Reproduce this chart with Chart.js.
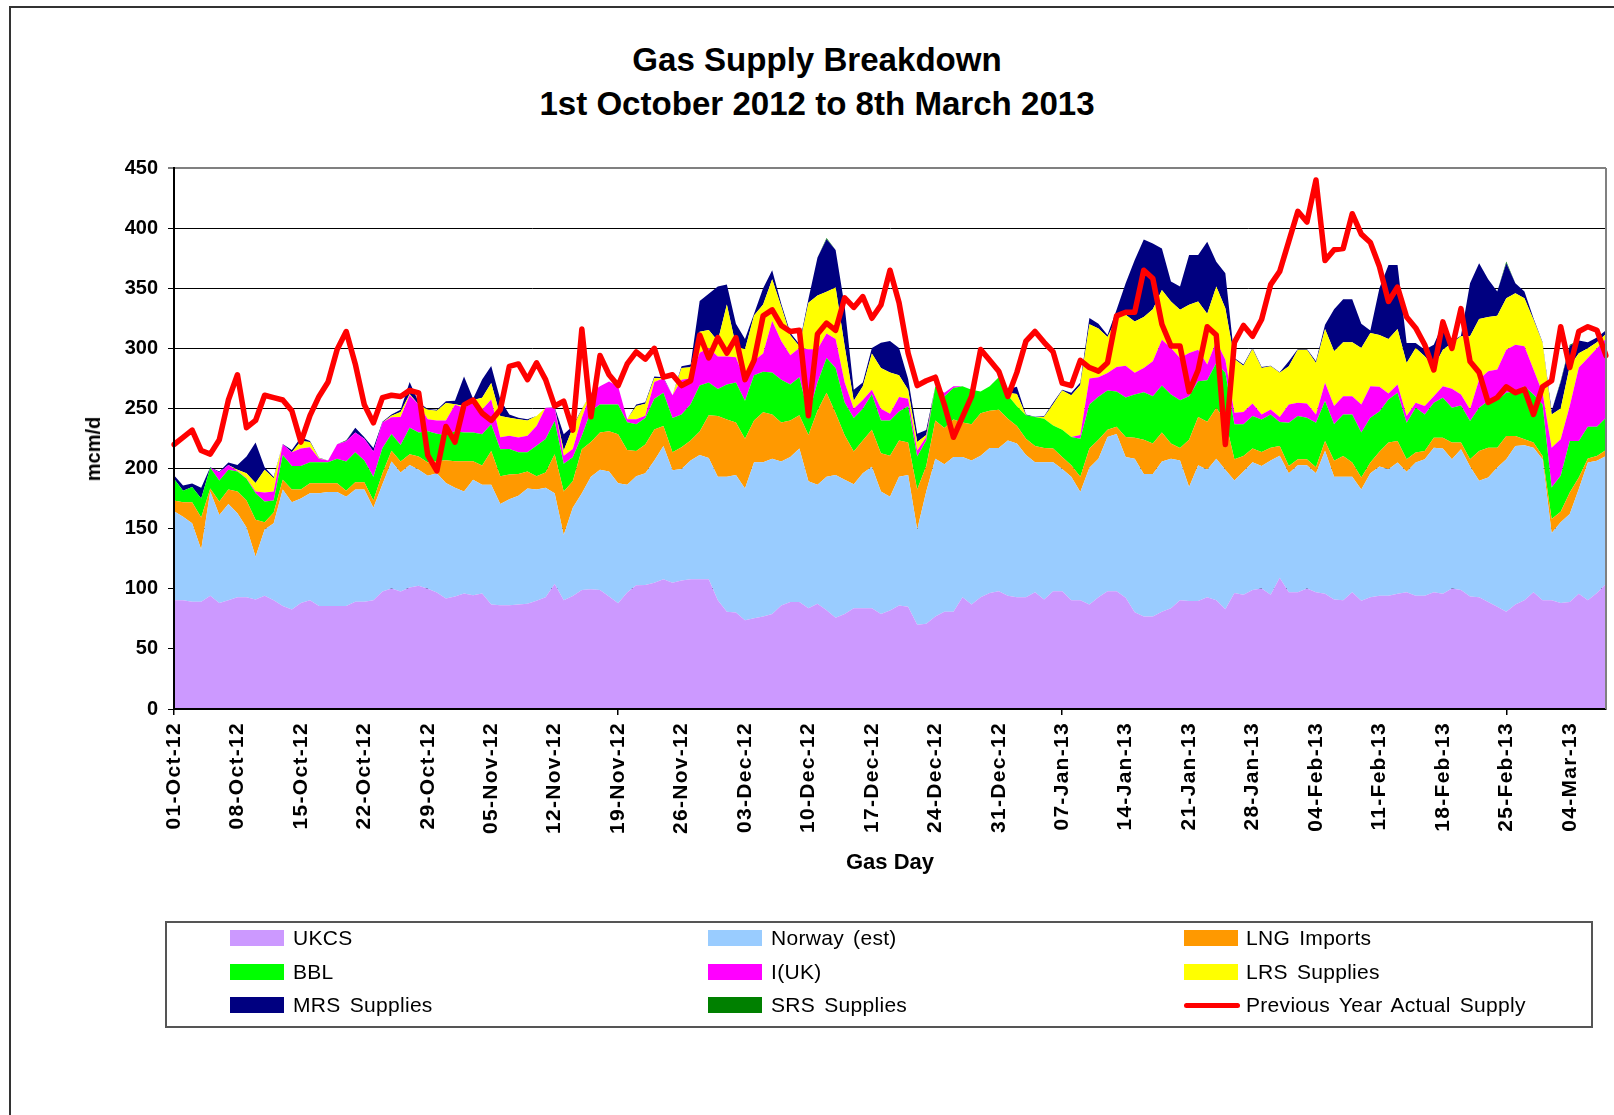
<!DOCTYPE html>
<html>
<head>
<meta charset="utf-8">
<script src="https://cdn.jsdelivr.net/npm/chart.js"></script>
<style>
  html, body { margin: 0; padding: 0; background: #fff; overflow: hidden; width: 1614px; height: 1115px; }
  body { position: relative; font-family: "Liberation Sans", Arial, sans-serif; }
  #frame { position: absolute; left: 9px; top: 6px; width: 2000px; height: 2000px; border-left: 2px solid #333; border-top: 2px solid #333; }
  #title { position: absolute; left: 817px; top: 38px; transform: translateX(-50%); white-space: nowrap; text-align: center; font-weight: bold; font-size: 33.1px; line-height: 44px; color: #000; }
  #ytitle { position: absolute; left: 93px; top: 449px; transform: translate(-50%, -50%) rotate(-90deg); white-space: nowrap; font-weight: bold; font-size: 20px; line-height: 24px; color: #000; }
  #c { position: absolute; left: 0; top: 0; }
  #legendBox { position: absolute; left: 165px; top: 921px; width: 1424px; height: 103px; border: 2px solid #555; }
  .sw { position: absolute; width: 54px; height: 16px; }
  .lt { position: absolute; font-size: 21px; color: #000; white-space: nowrap; line-height: 24px; letter-spacing: 0.3px; word-spacing: 3px; }
</style>
</head>
<body>
<div id="frame"></div>
<div id="title">Gas Supply Breakdown<br>1st October 2012 to 8th March 2013</div>
<canvas id="c" width="1614" height="1115" style="width:1614px;height:1115px;"></canvas>
<div id="ytitle">mcm/d</div>
<div id="legendBox"></div>
<script>
// ---- Data (mcm/d), one value per gas day from 01-Oct-12 to 08-Mar-13 ----
const xTickLabels = ['01-Oct-12','08-Oct-12','15-Oct-12','22-Oct-12','29-Oct-12','05-Nov-12','12-Nov-12','19-Nov-12','26-Nov-12','03-Dec-12','10-Dec-12','17-Dec-12','24-Dec-12','31-Dec-12','07-Jan-13','14-Jan-13','21-Jan-13','28-Jan-13','04-Feb-13','11-Feb-13','18-Feb-13','25-Feb-13','04-Mar-13'];
const yTickValues = [0, 50, 100, 150, 200, 250, 300, 350, 400, 450];

const ukcs = [90.5,90.5,89.3,89.3,94.1,88.1,90.5,92.9,92.9,91.1,
 94.1,90.5,85.7,82.7,88.1,90.5,85.7,85.7,85.7,85.7,
 89.3,89.3,90.5,97.8,100.2,97.8,101,102.6,100,97,
 92,93.5,96,94.7,96,87,86.3,86.3,86.9,87.5,
 90,92.9,104,90.5,94,99,99.6,99,93.5,88,
 97,103,103.2,105,108,105,106.8,108,108,108,
 90.5,80.9,80.3,73.9,75.4,76.9,79,86,89,89,
 83.9,87.5,82.1,76,79,83.9,83.9,83.9,79,82,
 86,85,70,70.9,76.9,80.9,80.9,92.9,86.9,92.9,
 96.5,98,94.1,92.9,92.9,97.1,91.1,98,98,90.5,
 90.5,86.9,92.9,98,98,92.5,80.5,76.9,76.9,80.9,
 83.9,90.5,89.9,89.9,92.9,90.5,83,96.5,95,99,
 100.2,95,109.2,97.1,97.1,100.2,97.1,95.9,91.1,90.5,
 97.1,90,93,94.1,94.1,95.9,97.1,94.1,94.1,97.1,
 95.9,100.2,99,93.5,92.9,89,85.1,80.9,86.9,90.5,
 97.1,90.5,90.5,88.1,89,95.9,90.5,96.5,104.1];

const norway = [73.9,69.4,65.2,43.4,86.9,73.3,80,70,58,35.6,
 55.2,64,96.8,89.3,86.9,89,93.8,94.7,94.7,90.8,
 93.2,93.2,76.9,89.2,105.6,98.9,102,96.4,94,99,
 96,90.5,85,96,90.5,99.5,84.2,88.1,90.5,95.9,
 92.5,91.1,75.5,54.3,73.4,80.5,93.5,100,104.1,99.7,
 89.5,90.7,92.8,101.7,110.7,93.5,92.9,98.7,103.2,100.8,
 102.6,112.2,114.3,109.5,129.8,128.3,129.2,119.8,120.7,127.6,
 105.6,99,111,118.6,111.7,103.1,112.2,117.6,102,94.5,
 107.1,109.6,79.3,110.1,131.3,122.7,128.8,116.8,119.8,117.7,
 120.7,119.2,129.2,127.9,118.3,108.1,114.1,107.2,101.7,102.6,
 89.9,113.7,115.3,128.3,130.7,117.2,127.7,118.6,118.6,124.9,
 124.3,116.2,94.7,112.8,106.2,117.7,116.1,93.6,102.6,106.2,
 101.9,111.7,101.4,99,105.6,102.5,99,118.9,102,102.6,
 96,92.5,103.1,107.6,105.4,109.1,100.2,110.9,113.7,120.3,
 120.7,107.6,117,108.2,96.9,103.6,115.8,126.9,131.9,128.9,
 120.3,117.3,55.9,67.2,73.2,87,114.5,109.9,106.4];

const lng = [9.1,12.1,17.5,26.6,2.4,11.2,12,18.1,22.6,30.8,
 6.1,9,8.2,10.5,7.5,8.2,8.2,7.3,7.3,5.1,
 6.1,6.1,6.1,9,9,9.1,9,11,11,10,
 19,22,25,15.3,16.1,28,23.1,20.6,18.1,14.2,
 11.2,12.7,32.3,36.2,22.1,36.5,28.9,31,33.4,40.9,
 29,20.8,24,25.8,16.6,15.1,18.1,16.6,19.6,35.6,
 50.7,47.7,43.7,41.4,34.7,41.6,36.8,32.5,30.2,27.8,
 38.5,61.5,69.9,51.3,37.1,27.2,27.2,30.8,31.7,34.1,
 30.2,27.1,33.2,21.1,31.7,30.2,31.1,28.6,30.1,35.3,
 30.8,31.7,18.1,14.5,13.6,13.5,12,11.4,10,9.6,
 12.7,16,15.7,6,6,16.6,17.5,28.4,25.3,24.1,
 12.6,10.5,39.3,40.2,39.8,42.2,40.8,17.7,12.9,11.4,
 11.7,10.7,8.2,6,5,5,5,8.2,13.3,17.4,
 11.9,10.1,8.9,12.3,22.1,18,10.5,8.3,6.9,8.3,
 9.1,13.8,5.6,6.1,24.9,24.8,16.5,19.3,8.3,4.9,
 4.2,2.7,11.6,8.8,17.9,9.7,3.3,4.1,5];

const bbl = [18.1,9.6,12.6,15.7,17.2,17.4,16.5,16.6,18.1,22,
 17.2,10,20.5,19.6,19.6,17.5,17.5,17.5,20.5,24.2,
 25,18.1,19.6,21.2,13.9,13.8,22,20,26,23,
 21,25,24,24,26,22.3,22.4,21.2,18,15.9,
 25.3,27.8,27.8,22.9,19.8,11.2,25.8,23.3,22.3,24.7,
 23,22.3,22,25.5,27.7,28.4,27.2,30.1,38.3,27.1,
 22.3,29.2,33.2,31.6,37.7,33.8,35,35.6,30.1,31.6,
 17,23.5,29,37.7,27.2,27.8,26.5,29.6,27.2,29.3,
 24.1,30.2,27.5,21.2,28.6,26.2,26.2,30.2,28.7,18.1,
 20.5,27.1,19.6,16.6,19.6,24.2,24.2,19.3,22.6,23.6,
 31.7,36.7,35.9,32.7,29.3,32.7,35.9,39.6,39.4,39.2,
 40.8,39.7,36.3,29.8,34.6,37.5,39.7,29,26.3,27.1,
 27.1,27.6,20,36,36,34.6,37,33.1,30.4,34.5,
 40,37.3,37.3,33.5,35.9,40,30.3,37.3,30.3,29,
 33.2,29,30.9,31.7,35.9,38.7,39.5,35.9,37.3,44.2,
 40,42.8,26.3,29.9,42.9,30.4,26.5,24.3,26.8];

const iuk = [0,0,0,0,0,7,4,0.4,0.4,1.5,
 7.4,7.5,9,11.5,14.5,12.6,3,1.5,12,16.9,
 16.4,18.1,21.1,21.1,13.9,23.3,27,23,10,11,
 12,22,20.6,24.7,20.6,20.6,10,11,12.3,13.7,
 16.4,26.1,11,6.8,6.9,15.1,15.1,15.1,19.2,15.1,
 2.5,4.2,2,14,12.2,19,28.9,21.8,27.2,28.7,
 27.2,23.3,21.1,16.6,12,15.1,42.8,32.3,24.2,24.2,
 54.3,27.8,20.3,24.1,16.5,7.8,7.2,3.6,9.9,5.6,
 12.1,6.1,5,3,0,3,1.5,0,0,0,
 0,0,0,0,0,0,0,0,0,0,
 3.2,21.7,16.2,14.5,20.4,26.6,18,20.2,29,38.1,
 38.7,35.1,35.9,26.2,13,17.9,11,9.6,10.2,10.5,
 4.1,4.2,4,15.2,11,11.9,6.9,15.2,15.2,15.2,
 15.2,23.4,26.2,20.5,4.9,6.9,5.6,4.1,7,5.5,
 9.6,15.7,9.1,9.7,23.4,24.9,25.4,35.9,38.6,33.2,
 20.7,9.7,33.1,30.3,29,61,57.2,65.2,65.7];

const lrs = [0,0,0,0,0,0,0,1,4,7,
 19,11,0,0,6.4,4.2,0.3,0,0,0,
 0,0,0,0,1.4,4.1,1,0,8,8,
 14.5,0.5,1.4,2.3,9.6,13.8,17.7,15.1,15.2,12.8,
 8.3,0,0,4.3,17.9,6.9,0,0,0,0,
 0,11,10,3.3,0,0,9.7,9,17.5,15.1,
 12.9,43.1,9.1,26.3,37.7,40.7,34.7,28.7,16.6,1.5,
 38.6,44.6,34.7,42.9,30.2,6.6,11.5,30.2,33.8,34.5,
 18.1,7.5,7,1.7,0,0,0,0,0,0,
 0,0,2,10.1,0,0,1.5,17.5,32.6,34.7,
 41.5,45,40.5,29.9,40.4,42.3,42.8,42.3,43.4,41.4,
 38.7,40,40.1,40.1,42.2,45.6,42.8,44.8,38.6,45.3,
 38.7,35.9,36.8,31.8,44.2,44.7,42.9,44.7,45.5,44.8,
 44.8,47,44.2,43,45.3,46.1,44.2,45.6,41.4,24.3,
 30.4,38.1,48.4,60.8,50.3,45,44.8,42.8,42.9,40,
 41.5,41.4,27.6,25.7,33,12,8,5,4];

const mrs = [2.9,4.4,2.9,9,0.4,0.5,2,4,14,33.7,
 2,1,0.3,1.9,3,1,0.5,0,0,0.3,
 4,1.2,2.8,0.7,1,2,10,2,0.5,1,
 1.5,3,24.6,1,15.2,14.2,13.7,2.7,1.3,1,
 0,0,0.4,13.6,1.3,0.3,0,0,0,0,
 0,1.3,1.2,1.3,0.8,0,1.4,2.4,25.6,30.2,
 45.3,16.6,18.7,8.4,1.5,13.6,7.5,2.1,2.2,1.8,
 3.1,31.7,43.7,31.1,33.2,9.1,3,4.5,21.1,26,
 22.6,9,7,4,0,0,0,0,0,0,
 0,0,3,6,0.6,0.1,0.6,1.5,0.6,2,
 2,5.2,4,1.6,7.2,26.2,51.1,64.6,54.7,34.5,
 16.5,19.4,41.4,38.6,60,20.7,29,0.8,0.9,0.8,
 0.8,0.5,0.5,4.1,0.6,0.6,1.3,3.6,35.1,35.9,
 35.9,20.1,2.2,39,61.6,53.3,16.5,4.1,5.5,18.5,
 21.5,1.4,0.5,44.1,46.4,31.5,20.1,29,8.2,5.5,
 1.3,0.6,2.8,22,17,10.5,5,4,3];

const srs = [0,0,0,0,0,0,0,0,0,0,
 0,0,0,0,0,0,0,0,0,0.5,
 0,0,0,0,0,0,0,0,0,0,
 0,0,0,0,0,0,0,0,0,0,
 0,0,0,0,0,0,0,0,0,0,
 0,0,0,0,0,0,0,0,0,0,
 0,0,0,0,0,0,0,0,0,0,
 0,0,1,0,0,0,0,0,0,0,
 0,0,0,0,0,0,0,0,0,0,
 0,0,0,0,0,0,0,0,0,0,
 0,0,0,0,0,0,0,0,0,0,
 0,0,0,0,0,0,0,0,0,0,
 0,0,0,0,0,0,0,0,0,0,
 0,0,0,0,0,0,0,0,0,0,
 0,0,0,0,0,0,0,1.5,0,0,
 0,0,0,1,1,0,0,0,0];

const prevYear = [220,226,232,215,212,224,257,278,234,240,
 261,259,257,248,222,244,260,272,299,314,
 287,253,238,259,261,260,265,263,211,198,
 235,222,253,257,246,240,249,285,287,274,
 288,274,252,256,232,316,243,294,278,269,
 287,297,291,300,276,278,269,273,311,292,
 309,296,309,274,290,327,332,319,314,315,
 244,312,321,315,342,334,343,325,336,365,
 338,296,269,273,276,253,226,243,260,299,
 290,281,260,280,306,314,305,297,271,269,
 290,284,281,288,327,330,330,365,358,320,
 302,302,264,282,318,311,220,305,319,310,
 324,353,364,389,414,405,440,373,382,383,
 412,395,388,368,339,351,326,317,303,282,
 322,300,333,289,280,255,259,268,263,266,
 245,268,273,318,284,314,318,315,294];

// Categories: one per gas day
const MONTHS = ['Jan','Feb','Mar','Apr','May','Jun','Jul','Aug','Sep','Oct','Nov','Dec'];
const categories = [];
for (let i = 0; i < ukcs.length; i++) {
  const d = new Date(Date.UTC(2012, 9, 1 + i));
  categories.push(String(d.getUTCDate()).padStart(2, '0') + '-' + MONTHS[d.getUTCMonth()] + '-' + String(d.getUTCFullYear()).slice(2));
}

const seriesNames = ['UKCS', 'Norway (est)', 'LNG Imports', 'BBL', 'I(UK)', 'LRS Supplies', 'MRS Supplies', 'SRS Supplies'];
const seriesColors = ['#CC99FF', '#99CCFF', '#FF9900', '#00FF00', '#FF00FF', '#FFFF00', '#000080', '#008000'];
const seriesData = [ukcs, norway, lng, bbl, iuk, lrs, mrs, srs];
const lineName = 'Previous Year Actual Supply';
const lineColor = '#FF0000';

const FONT = '"Liberation Sans", Arial, sans-serif';

const datasets = seriesData.map((arr, k) => ({
  label: seriesNames[k],
  data: arr,
  backgroundColor: seriesColors[k],
  borderColor: 'rgba(0,0,0,0)',
  borderWidth: 0,
  pointRadius: 0,
  fill: k === 0 ? 'origin' : '-1',
  tension: 0,
  order: 1
}));
datasets.push({
  label: lineName,
  data: prevYear,
  borderColor: lineColor,
  backgroundColor: lineColor,
  borderWidth: 5.5,
  pointRadius: 0,
  fill: false,
  tension: 0,
  stack: 'prev',
  order: 0,
  borderJoinStyle: 'round',
  borderCapStyle: 'round'
});

const plotFrame = {
  id: 'plotFrame',
  afterDraw(chart) {
    const { ctx, chartArea: a } = chart;
    ctx.save();
    ctx.strokeStyle = '#808080';
    ctx.lineWidth = 2;
    ctx.beginPath();
    ctx.moveTo(a.right, a.top);
    ctx.lineTo(a.right, a.bottom);
    ctx.stroke();
    ctx.restore();
  }
};

const chart = new Chart(document.getElementById('c').getContext('2d'), {
  type: 'line',
  data: { labels: categories, datasets },
  plugins: [plotFrame],
  options: {
    responsive: false,
    animation: false,
    devicePixelRatio: 1,
    layout: { padding: { left: 70, top: 168, right: 8, bottom: 239 } },
    plugins: { legend: { display: false }, title: { display: false }, tooltip: { enabled: false } },
    scales: {
      x: {
        type: 'category',
        offset: false,
        grid: {
          display: true, drawOnChartArea: false, drawTicks: true, tickLength: 6,
          color: (c) => (c.index % 7 === 0 ? '#000' : 'rgba(0,0,0,0)'), lineWidth: 1.5
        },
        border: { display: true, color: '#000', width: 2, z: 1 },
        ticks: {
          autoSkip: false, maxRotation: 90, minRotation: 90, padding: 7, color: '#000',
          font: { family: FONT, size: 21, weight: 'bold' },
          callback: (v, i) => (i % 7 === 0 ? xTickLabels[i / 7] : null)
        },
        title: { display: true, text: 'Gas Day', color: '#000', font: { family: FONT, size: 22, weight: 'bold' }, padding: { top: 0, bottom: 0 } },
        afterFit: (s) => { s.height = 167; s.paddingLeft = 0; s.paddingRight = 0; }
      },
      y: {
        stacked: true, min: 0, max: 450,
        afterBuildTicks: (s) => { s.ticks = yTickValues.map(v => ({ value: v })); },
        ticks: { padding: 10, color: '#000', font: { family: FONT, size: 20, weight: 'bold' } },
        grid: {
          color: (c) => (c.tick && c.tick.value === 450 ? '#808080' : '#000'),
          lineWidth: (c) => (c.tick && c.tick.value === 450 ? 2 : 1),
          drawTicks: true, tickLength: 6
        },
        border: { display: true, color: '#000', width: 2, z: 1 },
        title: { display: false },
        afterFit: (s) => { s.width = 104; s.paddingTop = 0; s.paddingBottom = 0; }
      }
    }
  }
});

// Slightly letter-spaced category labels, as in the original rendering
(function () {
  const xs = chart.scales.x;
  const orig = xs.drawLabels.bind(xs);
  xs.drawLabels = function (area) {
    const ctx = this.ctx;
    ctx.save();
    if ('letterSpacing' in ctx) ctx.letterSpacing = '1.3px';
    orig(area);
    ctx.restore();
  };
  chart.draw();
})();

// ---- HTML legend (3 columns x 3 rows) ----
const legendItems = seriesNames.map((n, k) => ({ name: n, color: seriesColors[k], line: false }))
  .concat([{ name: lineName, color: lineColor, line: true }]);
const colSw = [230, 708, 1184], colTx = [293, 771, 1246], rowY = [938, 972, 1005];
legendItems.forEach((it, idx) => {
  const r = Math.floor(idx / 3), c = idx % 3;
  const sw = document.createElement('div');
  sw.className = 'sw';
  sw.style.left = colSw[c] + 'px';
  if (it.line) {
    sw.style.height = '5px';
    sw.style.top = (rowY[r] - 2.5) + 'px';
    sw.style.borderRadius = '3px';
    sw.style.width = '56px';
  } else {
    sw.style.top = (rowY[r] - 8) + 'px';
  }
  sw.style.background = it.color;
  document.body.appendChild(sw);
  const t = document.createElement('div');
  t.className = 'lt';
  t.style.left = colTx[c] + 'px';
  t.style.top = (rowY[r] - 12) + 'px';
  t.textContent = it.name;
  document.body.appendChild(t);
});
</script>
</body>
</html>
